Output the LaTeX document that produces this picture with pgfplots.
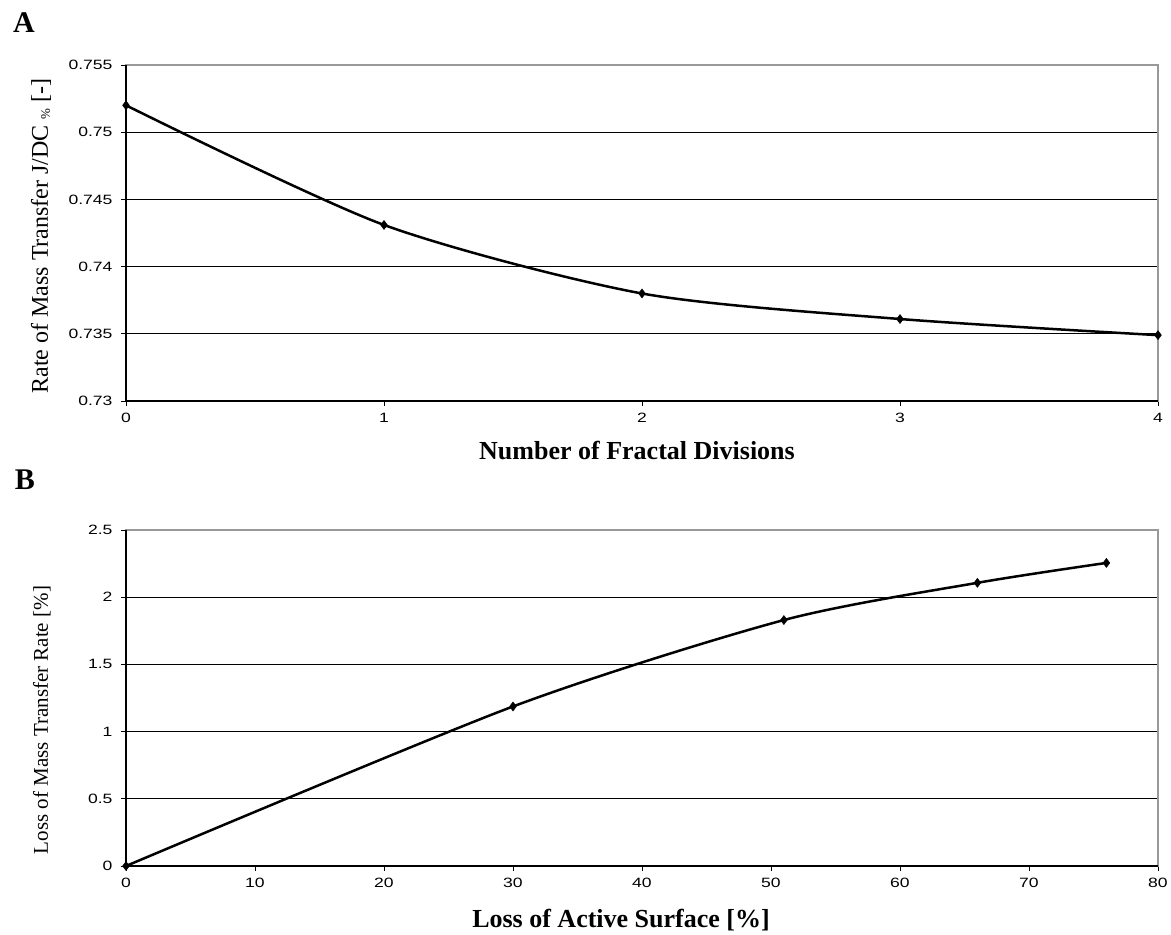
\documentclass[border=0pt]{standalone}
\usepackage{fontspec}
\setmainfont{Liberation Serif}
\newfontfamily\tickfont[FakeStretch=1.3]{Liberation Sans}
\usepackage{pgfplots}
\pgfplotsset{compat=1.18}
\pgfplotsset{mystyle/.style={
  scale only axis, width=1032pt, height=336pt,
  axis line style={draw=gray!80, line width=1.2pt},
  ymajorgrids, major grid style={black, line width=0.8pt},
  tick align=outside, major tick length=5pt,
  tick style={black, line width=0.8pt},
  xtick pos=bottom, ytick pos=left,
  ticklabel style={font=\tickfont\fontsize{13.5}{15}\selectfont},
  yticklabel style={xshift=-5pt},
  xticklabel style={yshift=-4pt},
  /pgf/number format/assume math mode=true,
  clip=false,
}}
\pgfplotsset{myline/.style={black, line width=2.5pt, smooth, tension=0.45,
    mark=diamond*, mark size=4.5pt, mark options={solid, fill=black, line width=0.5pt}}}
\begin{document}
\begin{tikzpicture}[x=1pt,y=1pt]
\path[use as bounding box] (0pt,0pt) rectangle (1171pt,935pt);
\begin{axis}[mystyle, at={(126pt,534pt)}, anchor=south west,
  xmin=0, xmax=4, ymin=0.73, ymax=0.755,
  xtick={0,1,2,3,4},
  ytick={0.73,0.735,0.74,0.745,0.75,0.755},
  yticklabel style={/pgf/number format/precision=3}]
\addplot[myline] coordinates {(0,0.752) (1,0.7431) (2,0.738) (3,0.7361) (4,0.7349)};
\draw[black, line width=1.6pt] (rel axis cs:0,1) -- (rel axis cs:0,0) -- (rel axis cs:1,0);
\end{axis}
\begin{axis}[mystyle, at={(126pt,69pt)}, anchor=south west,
  xmin=0, xmax=80, ymin=0, ymax=2.5,
  xtick={0,10,...,80},
  ytick={0,0.5,...,2.5}]
\addplot[myline] coordinates {(0,0) (30,1.187) (51,1.83) (66,2.107) (76,2.255)};
\draw[black, line width=1.6pt] (rel axis cs:0,1) -- (rel axis cs:0,0) -- (rel axis cs:1,0);
\end{axis}
\node[font=\bfseries\fontsize{30}{32}\selectfont] at (24pt,912pt) {A};
\node[font=\bfseries\fontsize{30}{32}\selectfont] at (25pt,455pt) {B};
\node[font=\bfseries\fontsize{26}{28}\selectfont] at (637pt,484pt) {Number of Fractal Divisions};
\node[font=\bfseries\fontsize{26}{28}\selectfont] at (621pt,15pt) {Loss of Active Surface [\%]};
\node[rotate=90, font=\fontsize{24}{26}\selectfont] at (41pt,699pt) {Rate of Mass Transfer J/DC {\fontsize{13}{14}\selectfont\raisebox{-2pt}{\%}} [-]};
\node[rotate=90, font=\fontsize{21}{23}\selectfont] at (42pt,215pt) {Loss of Mass Transfer Rate [\%]};
\end{tikzpicture}
\end{document}
